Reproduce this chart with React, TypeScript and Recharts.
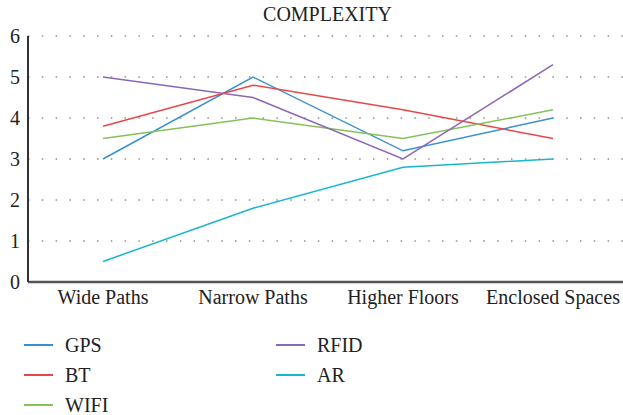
import React from "react";
import { LineChart, Line, XAxis, YAxis, CartesianGrid, Legend } from "recharts";

const categories = ["Wide Paths", "Narrow Paths", "Higher Floors", "Enclosed Spaces"];
const gps = [3, 5, 3.2, 4.0];
const bt = [3.8, 4.8, 4.2, 3.5];
const wifi = [3.5, 4.0, 3.5, 4.2];
const rfid = [5, 4.5, 3.0, 5.3];
const ar = [0.5, 1.8, 2.8, 3.0];
const yTicks = [0, 1, 2, 3, 4, 5, 6];

const series = [
  { key: "GPS", values: gps, color: "#3a8fd2" },
  { key: "BT", values: bt, color: "#e8474a" },
  { key: "WIFI", values: wifi, color: "#84c25a" },
  { key: "RFID", values: rfid, color: "#8b68b6" },
  { key: "AR", values: ar, color: "#18b6cc" },
];

const data = categories.map((c, i) => {
  const row: any = { name: c };
  series.forEach((s) => (row[s.key] = s.values[i]));
  return row;
});

const FONT = "'Liberation Serif', 'DejaVu Serif', serif";

const LegendContent = () => {
  return (
    <div
      style={{
        height: 95,
        boxSizing: "border-box",
        paddingTop: 10,
        paddingLeft: 24,
        display: "grid",
        gridTemplateRows: "30px 30px 30px",
        gridTemplateColumns: "252px 252px",
        gridAutoFlow: "column",
        fontFamily: FONT,
        fontSize: 20,
        lineHeight: "22px",
        color: "#222",
      }}
    >
      {series.map((s) => (
        <div key={s.key} style={{ display: "flex", alignItems: "center" }}>
          <div style={{ width: 29, height: 2, background: s.color, marginRight: 12 }} />
          <span>{s.key}</span>
        </div>
      ))}
    </div>
  );
};

export default function App() {
  return (
    <div style={{ position: "absolute", left: 0, top: 0, width: 623, height: 415, background: "#fff" }}>
      <div
        style={{
          position: "absolute",
          top: 3,
          left: 0,
          width: 655,
          textAlign: "center",
          fontFamily: FONT,
          fontSize: 20,
          color: "#222",
          zIndex: 1,
        }}
      >
        COMPLEXITY
      </div>
      <LineChart width={623} height={415} data={data} margin={{ top: 36, right: 0, left: 0, bottom: 0 }}>
        <CartesianGrid vertical={false} stroke="#555" strokeDasharray="1.5 12.3" />
        <XAxis
          dataKey="name"
          tickLine={false}
          axisLine={{ stroke: "#555", strokeWidth: 2.5 }}
          height={38}
          padding={{ left: 75, right: 70 }}
          tick={{ fill: "#222", fontFamily: FONT, fontSize: 20 }}
          interval={0}
        />
        <YAxis
          width={28}
          domain={[0, 6]}
          ticks={yTicks}
          tickLine={false}
          axisLine={{ stroke: "#333", strokeWidth: 2 }}
          tick={{ fill: "#222", fontFamily: FONT, fontSize: 20 }}
        />
        <Legend verticalAlign="bottom" content={<LegendContent />} />
        {series.map((s) => (
          <Line
            key={s.key}
            dataKey={s.key}
            stroke={s.color}
            strokeWidth={1.5}
            dot={false}
            type="linear"
            isAnimationActive={false}
            legendType="line"
          />
        ))}
      </LineChart>
    </div>
  );
}
